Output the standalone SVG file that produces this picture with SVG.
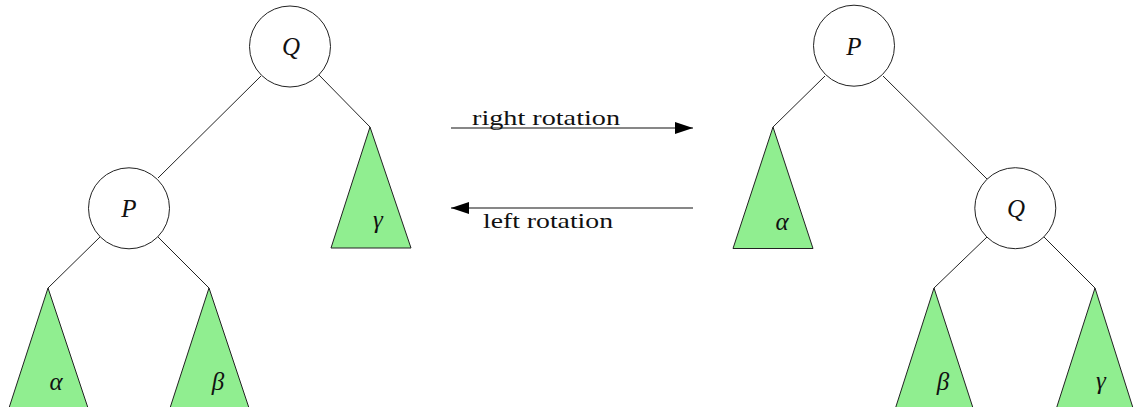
<svg xmlns="http://www.w3.org/2000/svg" width="1134" height="407" viewBox="0 0 1134 407">
<style>
.node{fill:#fff;stroke:#222;stroke-width:1}
.tri{fill:#90ee90;stroke:#222;stroke-width:1}
.edge{stroke:#222;stroke-width:1;fill:none}
.arr{stroke:#111;stroke-width:1.2;fill:none}
.m{font-family:"Liberation Serif",serif;font-style:italic;font-size:25px;fill:#111;text-anchor:middle}
.lbl{font-family:"Liberation Serif",serif;font-size:21px;fill:#111}
</style>
<defs>
<marker id="ah" viewBox="0 0 18 12" refX="18" refY="6" markerWidth="18" markerHeight="12" markerUnits="userSpaceOnUse" orient="auto">
<path d="M0,0 L18,6 L0,12 Z" fill="#000"/>
</marker>
</defs>
<g id="connectors">
<line class="edge" x1="261" y1="76" x2="158" y2="178"/>
<line class="edge" x1="319" y1="75" x2="370" y2="127"/>
<line class="edge" x1="100" y1="237" x2="48" y2="288"/>
<line class="edge" x1="158" y1="237" x2="209" y2="288"/>
<line class="edge" x1="825" y1="76" x2="773" y2="127"/>
<line class="edge" x1="883" y1="76" x2="987" y2="179"/>
<line class="edge" x1="987" y1="237" x2="934" y2="288"/>
<line class="edge" x1="1044" y1="237" x2="1095" y2="288"/>
<line class="arr" x1="451" y1="128" x2="693" y2="128" marker-end="url(#ah)"/>
<line class="arr" x1="693" y1="208" x2="451" y2="208" marker-end="url(#ah)"/>
<text class="lbl" x="472" y="125" textLength="148" lengthAdjust="spacingAndGlyphs">right rotation</text>
<text class="lbl" x="483" y="228" textLength="130" lengthAdjust="spacingAndGlyphs">left rotation</text>
</g>
<g id="L-Q"><circle class="node" cx="290" cy="46.5" r="40.5"/><text class="m" x="291" y="55">Q</text></g>
<g id="L-P"><circle class="node" cx="129" cy="208.3" r="40.5"/><text class="m" x="129" y="217">P</text></g>
<g id="L-gamma"><polygon class="tri" points="370,127 331,248 411,248"/><text class="m" x="378" y="228">γ</text></g>
<g id="L-alpha"><polygon class="tri" points="48,288 9,408 88,408"/><text class="m" x="56" y="390">α</text></g>
<g id="L-beta"><polygon class="tri" points="209,288 170,408 249,408"/><text class="m" x="218" y="390">β</text></g>
<g id="R-P"><circle class="node" cx="854" cy="45.7" r="40.5"/><text class="m" x="854" y="55">P</text></g>
<g id="R-Q"><circle class="node" cx="1015.3" cy="208.2" r="40.5"/><text class="m" x="1016" y="217">Q</text></g>
<g id="R-alpha"><polygon class="tri" points="773,127 733,248.5 813,248.5"/><text class="m" x="782" y="230">α</text></g>
<g id="R-beta"><polygon class="tri" points="934,288 895.5,408 973,408"/><text class="m" x="943" y="390">β</text></g>
<g id="R-gamma"><polygon class="tri" points="1095,288 1056.5,408 1133,408"/><text class="m" x="1101" y="389">γ</text></g>
</svg>
